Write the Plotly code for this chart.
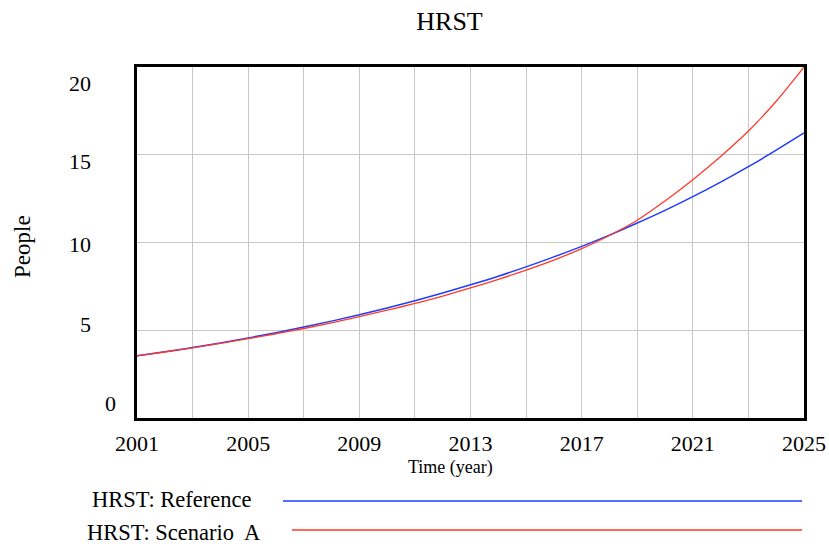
import plotly.graph_objects as go

years = list(range(2001, 2026))
reference = [3.54, 3.77, 4.02, 4.28, 4.56, 4.86, 5.18, 5.52, 5.88, 6.27, 6.68, 7.12,
             7.59, 8.08, 8.61, 9.18, 9.78, 10.42, 11.11, 11.83, 12.61, 13.44, 14.32,
             15.26, 16.24]
scenario_a = [3.54, 3.76, 4.00, 4.25, 4.52, 4.80, 5.10, 5.42, 5.77, 6.14, 6.53, 6.95,
              7.41, 7.90, 8.43, 9.00, 9.65, 10.40, 11.27, 12.37, 13.58, 14.90, 16.35,
              18.05, 20.00]
y_ticks = [0, 5, 10, 15, 20]
x_label_years = [2001, 2005, 2009, 2013, 2017, 2021, 2025]

W, H = 829, 544
L, R, T, B = 137, 804, 67, 418
FONT = "Liberation Serif"
BLUE = "#1f3cff"
RED = "#ff3a2a"


def px(xp):
    return (xp - L) / (R - L)


def py(yp):
    return (B - yp) / (B - T)


fig = go.Figure()
fig.add_trace(go.Scatter(x=years, y=reference, mode="lines", name="HRST: Reference",
                         line=dict(color=BLUE, width=1.5), line_shape="spline"))
fig.add_trace(go.Scatter(x=years, y=scenario_a, mode="lines", name="HRST: Scenario A",
                         line=dict(color=RED, width=1.3), line_shape="spline"))

grid_years = list(range(2001, 2026, 2))
fig.update_xaxes(range=[2001, 2025], tickvals=grid_years,
                 ticktext=[str(y) if y in x_label_years else "" for y in grid_years],
                 showgrid=True, gridcolor="#c8c8c8", gridwidth=1,
                 showline=True, linecolor="black", linewidth=2.5, mirror=True,
                 ticks="", zeroline=False, ticklabelstandoff=4, automargin=False,
                 tickfont=dict(family=FONT, size=22, color="black"))
fig.update_yaxes(range=[0, 20], tickvals=y_ticks, showticklabels=False,
                 showgrid=True, gridcolor="#c8c8c8", gridwidth=1,
                 showline=True, linecolor="black", linewidth=2.5, mirror=True,
                 ticks="", zeroline=False, automargin=False)

annotations = []
shifts = {20: -16, 15: -7, 10: -2, 5: 6, 0: 15}
for v in y_ticks:
    annotations.append(dict(x=0, xref="paper", y=v, yref="y", text=str(v), showarrow=False,
                            xanchor="right", yanchor="middle",
                            xshift=(118 - L) if v == 0 else (93 - L), yshift=shifts[v],
                            font=dict(family=FONT, size=22, color="black")))
annotations.append(dict(x=px(450), xref="paper", y=py(467), yref="paper", text="Time (year)",
                        showarrow=False, xanchor="center", yanchor="middle",
                        font=dict(family=FONT, size=18, color="black")))
annotations.append(dict(x=px(23), xref="paper", y=py(247), yref="paper", text="People",
                        showarrow=False, xanchor="center", yanchor="middle", textangle=-90,
                        font=dict(family=FONT, size=23, color="black")))
annotations.append(dict(x=px(90), xref="paper", y=py(499), yref="paper", text="HRST: Reference",
                        showarrow=False, xanchor="left", yanchor="middle",
                        font=dict(family=FONT, size=22.5, color="black")))
annotations.append(dict(x=px(85), xref="paper", y=py(532), yref="paper", text="HRST: Scenario  A",
                        showarrow=False, xanchor="left", yanchor="middle",
                        font=dict(family=FONT, size=22.5, color="black")))

shapes = [
    dict(type="line", xref="paper", yref="paper", x0=px(283), x1=px(802), y0=py(501), y1=py(501),
         line=dict(color=BLUE, width=1.5)),
    dict(type="line", xref="paper", yref="paper", x0=px(292), x1=px(802), y0=py(530), y1=py(530),
         line=dict(color=RED, width=1.5)),
]

fig.update_layout(
    width=W, height=H,
    margin=dict(l=L, r=W - R, t=T, b=H - B),
    paper_bgcolor="white", plot_bgcolor="white",
    showlegend=False,
    title=dict(text="HRST", x=449.5 / W, xref="container", xanchor="center",
               y=1 - 21 / H, yref="container", yanchor="middle",
               font=dict(family=FONT, size=26, color="black"), automargin=False),
    annotations=annotations, shapes=shapes,
)

fig.write_html("out.html", config={"displayModeBar": False},
               post_script="document.body.style.margin='0';document.body.style.overflow='hidden';")
